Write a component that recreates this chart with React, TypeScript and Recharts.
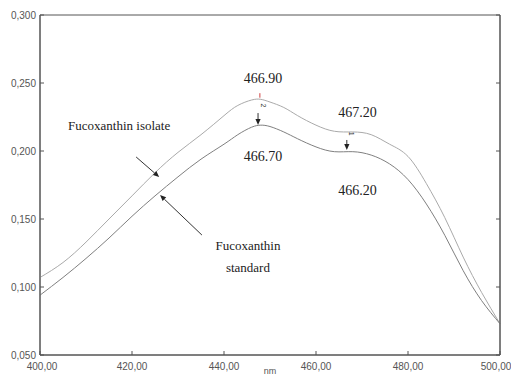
import React from "react";
import {
  LineChart,
  Line,
  XAxis,
  YAxis,
  ReferenceArea,
  ReferenceDot,
  ReferenceLine,
} from "recharts";

// Wavelength (nm)
const wavelengths = [
  400, 405, 410, 415, 420, 425, 430, 435, 440, 443, 446, 448, 450, 453, 456,
  460, 464, 468, 472, 476, 480, 484, 488, 492, 496, 500,
];
// Fucoxanthin isolate (upper curve)
const isolateValues = [
  0.107, 0.118, 0.133, 0.15, 0.167, 0.184, 0.199, 0.212, 0.226, 0.2335, 0.2375,
  0.238, 0.236, 0.232, 0.226, 0.219, 0.2145, 0.214, 0.212, 0.205, 0.196, 0.176,
  0.151, 0.122, 0.096, 0.073,
];
// Fucoxanthin standard (lower curve)
const standardValues = [
  0.094, 0.107, 0.121, 0.136, 0.152, 0.167, 0.181, 0.194, 0.205, 0.212, 0.2175,
  0.219, 0.218, 0.214, 0.209, 0.203, 0.1995, 0.1995, 0.197, 0.1905, 0.179,
  0.161, 0.138, 0.112, 0.09, 0.073,
];

const xTicks = [400, 420, 440, 460, 480, 500];
const yTicks = [0.05, 0.1, 0.15, 0.2, 0.25, 0.3];

// Annotation texts: [nm, absorbance, text]
const peakLabels: [number, number, string][] = [
  [448.5, 0.2537, "466.90"],
  [469.0, 0.2287, "467.20"],
  [448.5, 0.1963, "466.70"],
  [469.0, 0.1713, "466.20"],
];
const seriesNotes: [number, number, string, string][] = [
  [406.1, 0.2191, "Fucoxanthin isolate", "start"],
  [445.2, 0.1305, "Fucoxanthin", "middle"],
  [445.2, 0.1147, "standard", "middle"],
];
// Arrows: [fromNm, fromVal, toNm, toVal]
const arrows: [number, number, number, number][] = [
  [420.9, 0.1956, 425.9, 0.1809],
  [435.2, 0.1382, 426.1, 0.1676],
  [447.4, 0.2279, 447.4, 0.2191],
  [466.7, 0.2081, 466.7, 0.2007],
];

const data = wavelengths.map((nm, i) => ({
  nm,
  isolate: isolateValues[i],
  standard: standardValues[i],
}));

const AXIS = "#555";
const SERIF = "'Liberation Serif', 'DejaVu Serif', 'Times New Roman', serif";
const SANS = "'Liberation Sans', Arial, sans-serif";

const fmtX = (v: number) => v.toFixed(2).replace(".", ",");
const fmtY = (v: number) => v.toFixed(3).replace(".", ",");

const XTick = (props: any) => {
  const { x, y, payload } = props;
  const shift = payload.value === 500 ? -4 : payload.value === 400 ? 2 : 0;
  return (
    <g>
      <line x1={x} y1={y} x2={x} y2={y - 4} stroke={AXIS} />
      <text x={x + shift} y={y + 15} textAnchor="middle" fontSize={10} style={{ fontFamily: SANS }} fill={AXIS}>
        {fmtX(payload.value)}
      </text>
    </g>
  );
};

const YTick = (props: any) => {
  const { x, y, payload } = props;
  return (
    <g>
      <line x1={x} y1={y} x2={x + 4} y2={y} stroke={AXIS} />
      <text x={x - 4} y={y + 3.5} textAnchor="end" fontSize={10} style={{ fontFamily: SANS }} fill={AXIS}>
        {fmtY(payload.value)}
      </text>
    </g>
  );
};

const RTick = (props: any) => {
  const { x, y } = props;
  return <line x1={x} y1={y} x2={x - 4} y2={y} stroke={AXIS} />;
};

const ArrowShape = (props: any) => {
  const { x1, y1, x2, y2 } = props;
  const ang = Math.atan2(y2 - y1, x2 - x1);
  const len = 6;
  const w = 2.6;
  const bx = x2 - len * Math.cos(ang);
  const by = y2 - len * Math.sin(ang);
  const px = -Math.sin(ang) * w;
  const py = Math.cos(ang) * w;
  return (
    <g>
      <line x1={x1} y1={y1} x2={bx} y2={by} stroke="#333" strokeWidth={1} />
      <polygon
        points={`${x2},${y2} ${bx + px},${by + py} ${bx - px},${by - py}`}
        fill="#222"
      />
    </g>
  );
};

export default function App() {
  return (
    <div style={{ position: "absolute", left: 0, top: 0, width: 511, height: 377, background: "#fff" }}>
      <LineChart
        width={511}
        height={377}
        data={data}
        margin={{ top: 15, right: 0, bottom: 0, left: 0 }}
      >
        <XAxis
          dataKey="nm"
          type="number"
          domain={[400, 500]}
          ticks={xTicks}
          interval={0}
          height={22}
          tickSize={0}
          tickMargin={0}
          stroke={AXIS}
          tick={<XTick />}
          label={{ value: "nm", position: "insideBottom", offset: 3, fontSize: 9, fill: AXIS, style: { fontFamily: SANS } }}
        />
        <YAxis
          type="number"
          domain={[0.05, 0.3]}
          ticks={yTicks}
          interval={0}
          width={40}
          tickSize={0}
          tickMargin={0}
          stroke={AXIS}
          tick={<YTick />}
          allowDataOverflow
        />
        <YAxis
          yAxisId="r"
          orientation="right"
          type="number"
          domain={[0.05, 0.3]}
          ticks={yTicks}
          interval={0}
          width={11}
          tickSize={0}
          tickMargin={0}
          stroke={AXIS}
          tick={<RTick />}
          allowDataOverflow
        />
        <ReferenceArea x1={400} x2={500} y1={0.05} y2={0.3} fill="none" stroke={AXIS} strokeWidth={1} />
        <Line
          type="natural"
          dataKey="isolate"
          stroke="#aaaaaa"
          strokeWidth={1}
          dot={false}
          isAnimationActive={false}
        />
        <Line
          type="natural"
          dataKey="standard"
          stroke="#808080"
          strokeWidth={1}
          dot={false}
          isAnimationActive={false}
        />
        {arrows.map((a, i) => (
          <ReferenceLine
            key={`a${i}`}
            segment={[{ x: a[0], y: a[1] }, { x: a[2], y: a[3] }]}
            shape={<ArrowShape />}
          />
        ))}
        <ReferenceLine
          segment={[{ x: 447.8, y: 0.2392 }, { x: 447.8, y: 0.2425 }]}
          stroke="#d04040"
          strokeWidth={1}
        />
        {peakLabels.map((p, i) => (
          <ReferenceDot
            key={`p${i}`}
            x={p[0]}
            y={p[1]}
            r={0}
            shape={(s: any) => (
              <text x={s.cx} y={s.cy + 5} textAnchor="middle" fontSize={14} style={{ fontFamily: SERIF }} fill="#222">
                {p[2]}
              </text>
            )}
          />
        ))}
        {seriesNotes.map((p, i) => (
          <ReferenceDot
            key={`n${i}`}
            x={p[0]}
            y={p[1]}
            r={0}
            shape={(s: any) => (
              <text x={s.cx} y={s.cy + 4.5} textAnchor={p[3] as any} fontSize={13} style={{ fontFamily: SERIF }} fill="#222">
                {p[2]}
              </text>
            )}
          />
        ))}
        <ReferenceDot
          x={448.1}
          y={0.2335}
          r={0}
          shape={(s: any) => (
            <text x={s.cx} y={s.cy} textAnchor="middle" fontSize={7} style={{ fontFamily: SANS }} fill="#333" transform={`rotate(90 ${s.cx} ${s.cy})`}>
              2
            </text>
          )}
        />
        <ReferenceDot
          x={467.2}
          y={0.2128}
          r={0}
          shape={(s: any) => (
            <text x={s.cx} y={s.cy} textAnchor="middle" fontSize={7} style={{ fontFamily: SANS }} fill="#333" transform={`rotate(90 ${s.cx} ${s.cy})`}>
              1
            </text>
          )}
        />
      </LineChart>
    </div>
  );
}
